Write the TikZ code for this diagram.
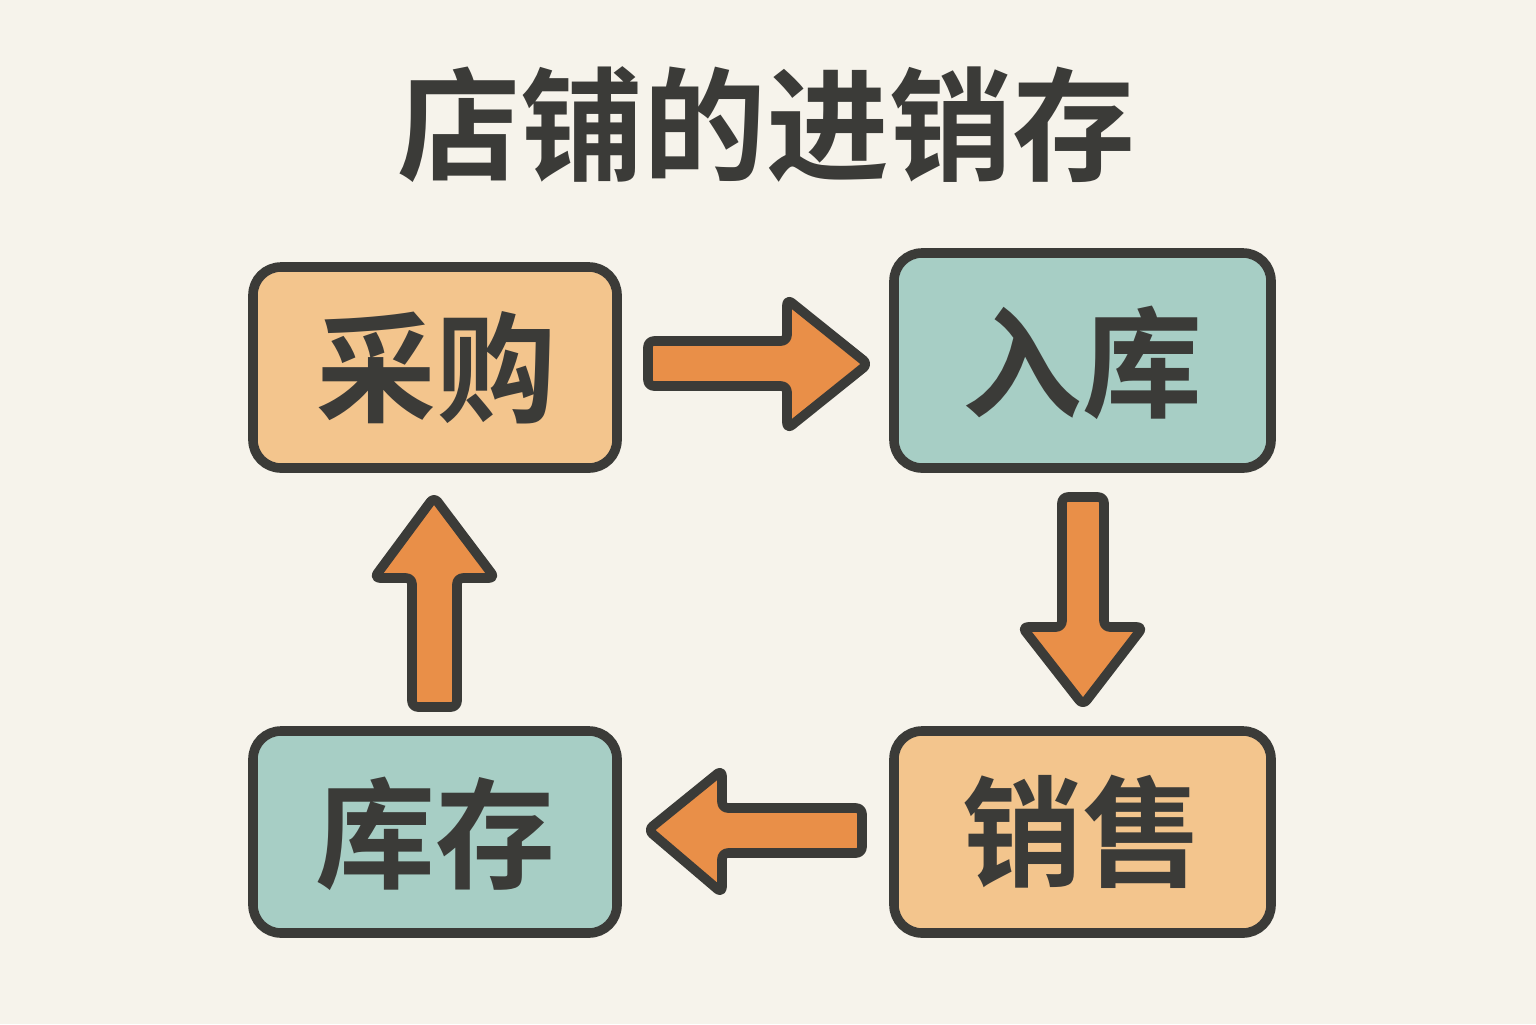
\documentclass[tikz,border=0pt]{standalone}
\usepackage{fontspec}
\newfontfamily\cjk{Noto Sans CJK SC Bold}
\definecolor{bg}{HTML}{F6F3EB}
\definecolor{ink}{HTML}{3B3B38}
\definecolor{peach}{HTML}{F3C58D}
\definecolor{teal}{HTML}{A7CEC5}
\definecolor{arr}{HTML}{E98F48}
\begin{document}
\begin{tikzpicture}[x=0.5pt,y=-0.5pt,
  boxa/.style={draw=ink,line width=4.8pt,rounded corners=14pt,fill=peach},
  boxb/.style={draw=ink,line width=4.8pt,rounded corners=14pt,fill=teal},
  lbl/.style={font=\cjk\fontsize{60}{64}\selectfont,text=ink},
  barrow/.style={draw=ink,line width=4.8pt,line join=round,rounded corners=3pt,fill=arr}]
\fill[bg] (0,0) rectangle (1536,1024);
\useasboundingbox (0,0) rectangle (1536,1024);
\node[font=\cjk\fontsize{61.5}{64}\selectfont,text=ink] (title) at (766,125) {店铺的进销存};
% boxes
\draw[boxa] (253,267) rectangle (617,468);
\draw[boxb] (894,253) rectangle (1271,468);
\draw[boxb] (253,731) rectangle (617,933);
\draw[boxa] (894,731) rectangle (1271,933);
\node[lbl] (caigou) at (436,368) {采购};
\node[lbl] (ruku) at (1082,363) {入库};
\node[lbl] (kucun) at (435,834) {库存};
\node[lbl] (xiaoshou) at (1082,832) {销售};
% block arrows
\draw[barrow] (648,341) -- (787,341) -- (787,299) -- (868,364) -- (787,429) -- (787,386) -- (648,386) -- cycle;
\draw[barrow] (1062,497) -- (1104,497) -- (1104,627) -- (1143,627) -- (1083,705) -- (1022,627) -- (1062,627) -- cycle;
\draw[barrow] (862,808) -- (722,808) -- (722,770) -- (648,830) -- (722,893) -- (722,853) -- (862,853) -- cycle;
\draw[barrow] (412,707) -- (412,578) -- (374,578) -- (434,497) -- (495,578) -- (457,578) -- (457,707) -- cycle;
\end{tikzpicture}
\end{document}
